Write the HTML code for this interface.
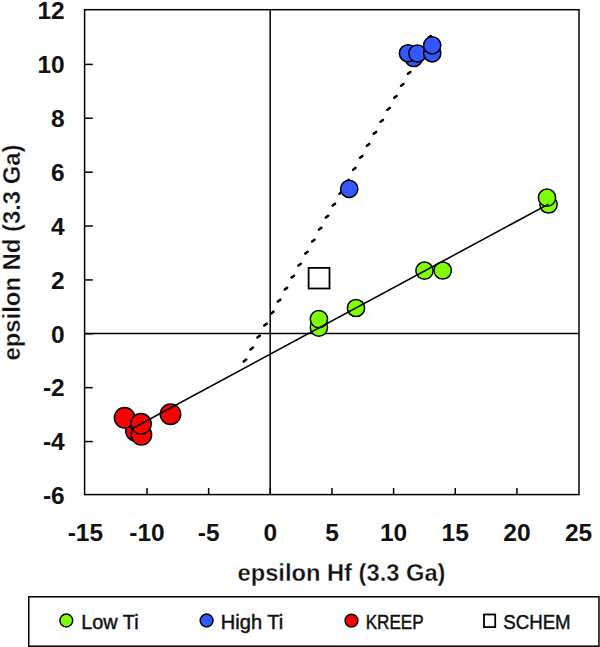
<!DOCTYPE html>
<html><head><meta charset="utf-8"><style>
html,body{margin:0;padding:0;background:#fff;}
body{width:600px;height:647px;overflow:hidden;font-family:"Liberation Sans", sans-serif;}
svg{display:block;}
</style></head><body>
<svg width="600" height="647" viewBox="0 0 600 647">
<rect x="84.6" y="9.7" width="494.40" height="484.90" fill="#fff" stroke="#000" stroke-width="1.5"/>
<line x1="270.2" y1="9.7" x2="270.2" y2="494.6" stroke="#000" stroke-width="1.5"/>
<line x1="84.6" y1="333.6" x2="579.0" y2="333.6" stroke="#000" stroke-width="1.5"/>
<line x1="84.6" y1="64.40" x2="92.8" y2="64.40" stroke="#000" stroke-width="1.5"/>
<line x1="84.6" y1="118.28" x2="92.8" y2="118.28" stroke="#000" stroke-width="1.5"/>
<line x1="84.6" y1="172.16" x2="92.8" y2="172.16" stroke="#000" stroke-width="1.5"/>
<line x1="84.6" y1="226.04" x2="92.8" y2="226.04" stroke="#000" stroke-width="1.5"/>
<line x1="84.6" y1="279.92" x2="92.8" y2="279.92" stroke="#000" stroke-width="1.5"/>
<line x1="84.6" y1="333.80" x2="92.8" y2="333.80" stroke="#000" stroke-width="1.5"/>
<line x1="84.6" y1="387.68" x2="92.8" y2="387.68" stroke="#000" stroke-width="1.5"/>
<line x1="84.6" y1="441.56" x2="92.8" y2="441.56" stroke="#000" stroke-width="1.5"/>
<line x1="147.00" y1="488" x2="147.00" y2="494.6" stroke="#000" stroke-width="1.5"/>
<line x1="208.65" y1="488" x2="208.65" y2="494.6" stroke="#000" stroke-width="1.5"/>
<line x1="270.30" y1="488" x2="270.30" y2="494.6" stroke="#000" stroke-width="1.5"/>
<line x1="331.95" y1="488" x2="331.95" y2="494.6" stroke="#000" stroke-width="1.5"/>
<line x1="393.60" y1="488" x2="393.60" y2="494.6" stroke="#000" stroke-width="1.5"/>
<line x1="455.25" y1="488" x2="455.25" y2="494.6" stroke="#000" stroke-width="1.5"/>
<line x1="516.90" y1="488" x2="516.90" y2="494.6" stroke="#000" stroke-width="1.5"/>
<path d="M243.70,361.40L246.10,359.60M250.54,349.42L252.94,347.62M257.39,337.43L259.79,335.63M264.23,325.45L266.63,323.65M271.07,313.46L273.47,311.66M277.92,301.48L280.32,299.68M284.76,289.50L287.16,287.70M291.60,277.51L294.00,275.71M298.45,265.53L300.85,263.73M305.29,253.55L307.69,251.75M312.13,241.56L314.53,239.76M318.97,229.58L321.37,227.78M325.82,217.59L328.22,215.79M332.66,205.61L335.06,203.81M339.50,193.63L341.90,191.83M346.35,181.64L348.75,179.84M353.19,169.66L355.59,167.86M360.03,157.68L362.43,155.88M366.88,145.69L369.28,143.89M373.72,133.71L376.12,131.91M380.56,121.72L382.96,119.92M387.41,109.74L389.81,107.94M394.25,97.76L396.65,95.96M401.09,85.77L403.49,83.97M407.94,73.79L410.34,71.99M414.78,61.81L417.18,60.01M421.62,49.82L424.02,48.02M428.47,37.84L430.87,36.04" stroke="#000" stroke-width="2.5" stroke-linecap="round" fill="none"/>
<circle cx="136.0" cy="431.0" r="10.22" fill="#ff0000" stroke="#000" stroke-width="1.5"/>
<circle cx="124.6" cy="417.7" r="10.22" fill="#ff0000" stroke="#000" stroke-width="1.5"/>
<circle cx="141.4" cy="434.8" r="10.22" fill="#ff0000" stroke="#000" stroke-width="1.5"/>
<circle cx="141.0" cy="423.8" r="10.22" fill="#ff0000" stroke="#000" stroke-width="1.5"/>
<circle cx="170.5" cy="414.25" r="10.22" fill="#ff0000" stroke="#000" stroke-width="1.5"/>
<circle cx="318.9" cy="327.6" r="8.62" fill="#80ff00" stroke="#000" stroke-width="1.5"/>
<circle cx="318.9" cy="319.1" r="8.62" fill="#80ff00" stroke="#000" stroke-width="1.5"/>
<circle cx="356.0" cy="308.0" r="8.62" fill="#80ff00" stroke="#000" stroke-width="1.5"/>
<circle cx="424.5" cy="270.7" r="8.62" fill="#80ff00" stroke="#000" stroke-width="1.5"/>
<circle cx="442.7" cy="270.5" r="8.62" fill="#80ff00" stroke="#000" stroke-width="1.5"/>
<circle cx="548.5" cy="204.5" r="8.62" fill="#80ff00" stroke="#000" stroke-width="1.5"/>
<circle cx="547.0" cy="197.7" r="8.62" fill="#80ff00" stroke="#000" stroke-width="1.5"/>
<circle cx="349.2" cy="188.8" r="8.62" fill="#3358ff" stroke="#000" stroke-width="1.5"/>
<circle cx="413.75" cy="58.0" r="8.62" fill="#3358ff" stroke="#000" stroke-width="1.5"/>
<circle cx="408.0" cy="53.25" r="8.62" fill="#3358ff" stroke="#000" stroke-width="1.5"/>
<circle cx="417.5" cy="53.5" r="8.62" fill="#3358ff" stroke="#000" stroke-width="1.5"/>
<circle cx="432.2" cy="53.3" r="8.62" fill="#3358ff" stroke="#000" stroke-width="1.5"/>
<circle cx="432.2" cy="45.3" r="8.62" fill="#3358ff" stroke="#000" stroke-width="1.5"/>
<line x1="131.0" y1="429.19" x2="548.5" y2="204.15" stroke="#000" stroke-width="1.6"/>
<rect x="308.6" y="267.9" width="20.9" height="20.6" fill="#fff" stroke="#000" stroke-width="1.8"/>
<text x="64.7" y="19.32" text-anchor="end" font-family="'Liberation Sans', sans-serif" font-weight="bold" font-size="24.5" fill="#111">12</text>
<text x="64.7" y="73.20" text-anchor="end" font-family="'Liberation Sans', sans-serif" font-weight="bold" font-size="24.5" fill="#111">10</text>
<text x="64.7" y="127.08" text-anchor="end" font-family="'Liberation Sans', sans-serif" font-weight="bold" font-size="24.5" fill="#111">8</text>
<text x="64.7" y="180.96" text-anchor="end" font-family="'Liberation Sans', sans-serif" font-weight="bold" font-size="24.5" fill="#111">6</text>
<text x="64.7" y="234.84" text-anchor="end" font-family="'Liberation Sans', sans-serif" font-weight="bold" font-size="24.5" fill="#111">4</text>
<text x="64.7" y="288.72" text-anchor="end" font-family="'Liberation Sans', sans-serif" font-weight="bold" font-size="24.5" fill="#111">2</text>
<text x="64.7" y="342.60" text-anchor="end" font-family="'Liberation Sans', sans-serif" font-weight="bold" font-size="24.5" fill="#111">0</text>
<text x="64.7" y="396.48" text-anchor="end" font-family="'Liberation Sans', sans-serif" font-weight="bold" font-size="24.5" fill="#111">-2</text>
<text x="64.7" y="450.36" text-anchor="end" font-family="'Liberation Sans', sans-serif" font-weight="bold" font-size="24.5" fill="#111">-4</text>
<text x="64.7" y="504.24" text-anchor="end" font-family="'Liberation Sans', sans-serif" font-weight="bold" font-size="24.5" fill="#111">-6</text>
<text x="85.35" y="541.4" text-anchor="middle" font-family="'Liberation Sans', sans-serif" font-weight="bold" font-size="24.5" fill="#111">-15</text>
<text x="147.00" y="541.4" text-anchor="middle" font-family="'Liberation Sans', sans-serif" font-weight="bold" font-size="24.5" fill="#111">-10</text>
<text x="208.65" y="541.4" text-anchor="middle" font-family="'Liberation Sans', sans-serif" font-weight="bold" font-size="24.5" fill="#111">-5</text>
<text x="270.30" y="541.4" text-anchor="middle" font-family="'Liberation Sans', sans-serif" font-weight="bold" font-size="24.5" fill="#111">0</text>
<text x="331.95" y="541.4" text-anchor="middle" font-family="'Liberation Sans', sans-serif" font-weight="bold" font-size="24.5" fill="#111">5</text>
<text x="393.60" y="541.4" text-anchor="middle" font-family="'Liberation Sans', sans-serif" font-weight="bold" font-size="24.5" fill="#111">10</text>
<text x="455.25" y="541.4" text-anchor="middle" font-family="'Liberation Sans', sans-serif" font-weight="bold" font-size="24.5" fill="#111">15</text>
<text x="516.90" y="541.4" text-anchor="middle" font-family="'Liberation Sans', sans-serif" font-weight="bold" font-size="24.5" fill="#111">20</text>
<text x="578.55" y="541.4" text-anchor="middle" font-family="'Liberation Sans', sans-serif" font-weight="bold" font-size="24.5" fill="#111">25</text>
<text x="237.5" y="581.2" font-family="'Liberation Sans', sans-serif" font-weight="bold" font-size="23.7" fill="#111" stroke="#fff" stroke-width="0.3" textLength="208" lengthAdjust="spacingAndGlyphs">epsilon Hf (3.3 Ga)</text>
<text transform="translate(20.3,360.5) rotate(-90)" x="0" y="0" font-family="'Liberation Sans', sans-serif" font-weight="bold" font-size="23.7" fill="#111" stroke="#fff" stroke-width="0.3" textLength="216" lengthAdjust="spacingAndGlyphs">epsilon Nd (3.3 Ga)</text>
<rect x="28.75" y="596.8" width="570.2" height="49.4" fill="#fff" stroke="#000" stroke-width="1.5"/>
<circle cx="66.3" cy="620.5" r="6.4" fill="#80ff00" stroke="#000" stroke-width="1.5"/>
<text x="81.2" y="629.2" font-family="'Liberation Sans', sans-serif" font-size="19.5" fill="#111" stroke="#111" stroke-width="0.45" textLength="57.5" lengthAdjust="spacingAndGlyphs">Low Ti</text>
<circle cx="206.6" cy="620.5" r="6.4" fill="#3358ff" stroke="#000" stroke-width="1.5"/>
<text x="220.8" y="629.2" font-family="'Liberation Sans', sans-serif" font-size="19.5" fill="#111" stroke="#111" stroke-width="0.45" textLength="62.5" lengthAdjust="spacingAndGlyphs">High Ti</text>
<circle cx="351.5" cy="620.6" r="6.4" fill="#ff0000" stroke="#000" stroke-width="1.5"/>
<text x="365.7" y="629.2" font-family="'Liberation Sans', sans-serif" font-size="19.5" fill="#111" stroke="#111" stroke-width="0.45" textLength="58" lengthAdjust="spacingAndGlyphs">KREEP</text>
<rect x="484" y="614.5" width="11.2" height="12.6" fill="#fff" stroke="#000" stroke-width="1.8"/>
<text x="503.2" y="629.2" font-family="'Liberation Sans', sans-serif" font-size="19.5" fill="#111" stroke="#111" stroke-width="0.45" textLength="67.5" lengthAdjust="spacingAndGlyphs">SCHEM</text>
</svg>
</body></html>
